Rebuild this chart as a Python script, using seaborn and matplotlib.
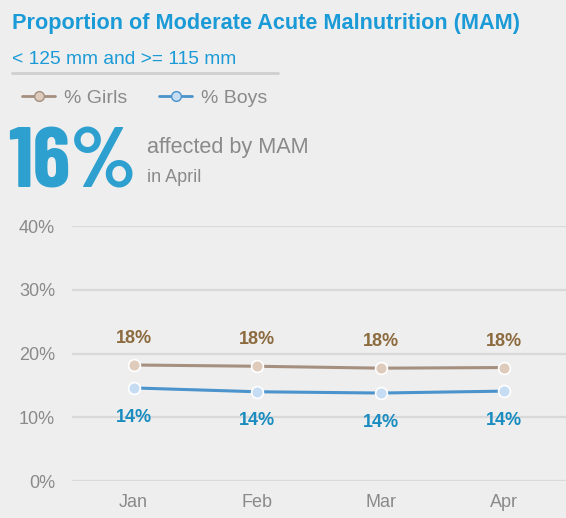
import matplotlib
matplotlib.use("Agg")
import matplotlib.pyplot as plt
import seaborn as sns
import pandas as pd
from matplotlib.lines import Line2D

months = ["Jan", "Feb", "Mar", "Apr"]
girls = [18.2, 18.0, 17.7, 17.8]
boys = [14.6, 14.0, 13.8, 14.1]
girls_labels = ["18%", "18%", "18%", "18%"]
boys_labels = ["14%", "14%", "14%", "14%"]
y_ticks = [0, 10, 20, 30, 40]

BG = "#eeeeee"
BLUE = "#1a9ad6"
GIRL_LINE = "#a58f7f"
GIRL_FILL = "#decbbb"
BOY_LINE = "#4a93cc"
BOY_FILL = "#c5dcf2"
GRAY = "#8a8a8a"

sns.set_style("white", {"axes.facecolor": BG, "figure.facecolor": BG})
plt.rcParams["font.family"] = ["Liberation Sans", "DejaVu Sans"]

df = pd.DataFrame({
    "month": months * 2,
    "value": girls + boys,
    "group": ["% Girls"] * 4 + ["% Boys"] * 4,
})

fig = plt.figure(figsize=(5.66, 5.18), dpi=100)
ax = fig.add_axes([0.127, 0.0714, 0.873, 0.4923])

sns.lineplot(data=df, x="month", y="value", hue="group",
             palette={"% Girls": GIRL_LINE, "% Boys": BOY_LINE},
             linewidth=2.2, legend=False, ax=ax, sort=False)
for line, fill in zip(ax.get_lines(), [GIRL_FILL, BOY_FILL]):
    line.set_marker("o")
    line.set_markersize(8.5)
    line.set_markerfacecolor(fill)
    line.set_markeredgewidth(1.2)
    line.set_zorder(3)

for i, (g, b) in enumerate(zip(girls, boys)):
    ax.annotate(girls_labels[i], (i, g), xytext=(0, 19), textcoords="offset points",
                ha="center", va="center", fontsize=13, fontweight="bold", color="#8c6b3f")
    ax.annotate(boys_labels[i], (i, b), xytext=(0, -21), textcoords="offset points",
                ha="center", va="center", fontsize=13, fontweight="bold", color="#1a8cc0")

ax.set_xlim(-0.5, 3.5)
ax.set_ylim(0, 40)
ax.set_yticks(y_ticks)
ax.set_yticklabels([f"{t}%" for t in y_ticks])
ax.grid(axis="y", color="#d9d9d9", linewidth=1.6)
ax.set_axisbelow(True)
for s in ax.spines.values():
    s.set_visible(False)
ax.tick_params(axis="both", length=0, labelsize=13, labelcolor=GRAY)
ax.tick_params(axis="y", pad=12)
ax.tick_params(axis="x", pad=9)
ax.set_xlabel("")
ax.set_ylabel("")

# header texts
fig.text(12 / 566, 1 - 24 / 518, "Proportion of Moderate Acute Malnutrition (MAM)",
         fontsize=15.6, fontweight="bold", color=BLUE, va="center", ha="left")
fig.text(12 / 566, 1 - 59 / 518, "< 125 mm and >= 115 mm", fontsize=13.8,
         color=BLUE, va="center", ha="left")
fig.add_artist(Line2D([12 / 566, 278 / 566], [1 - 73 / 518, 1 - 73 / 518],
                      color="#cfcfcf", linewidth=2))

# legend
handles = [
    Line2D([], [], color=GIRL_LINE, marker="o", markerfacecolor=GIRL_FILL,
           markersize=7, linewidth=2),
    Line2D([], [], color=BOY_LINE, marker="o", markerfacecolor=BOY_FILL,
           markersize=7, linewidth=2),
]
fig.legend(handles, ["% Girls", "% Boys"], loc="center left",
           bbox_to_anchor=(22 / 566, 1 - 98 / 518), ncol=2, frameon=False,
           labelcolor=GRAY, handlelength=1.7, columnspacing=1.65,
           handletextpad=0.46, borderpad=0, borderaxespad=0,
           prop={"size": 14})

fig.text(8 / 566, 1 - 188 / 518, "16%", fontsize=62, fontweight="bold", color="#2ea0d0",
         va="baseline", ha="left", family=["Barlow Condensed", "Liberation Sans"])
fig.text(147 / 566, 1 - 148 / 518, "affected by MAM", fontsize=15.6, color=GRAY,
         va="center", ha="left")
fig.text(147 / 566, 1 - 177 / 518, "in April", fontsize=13, color=GRAY,
         va="center", ha="left")

fig.savefig("out.png", dpi=100, facecolor=BG)
